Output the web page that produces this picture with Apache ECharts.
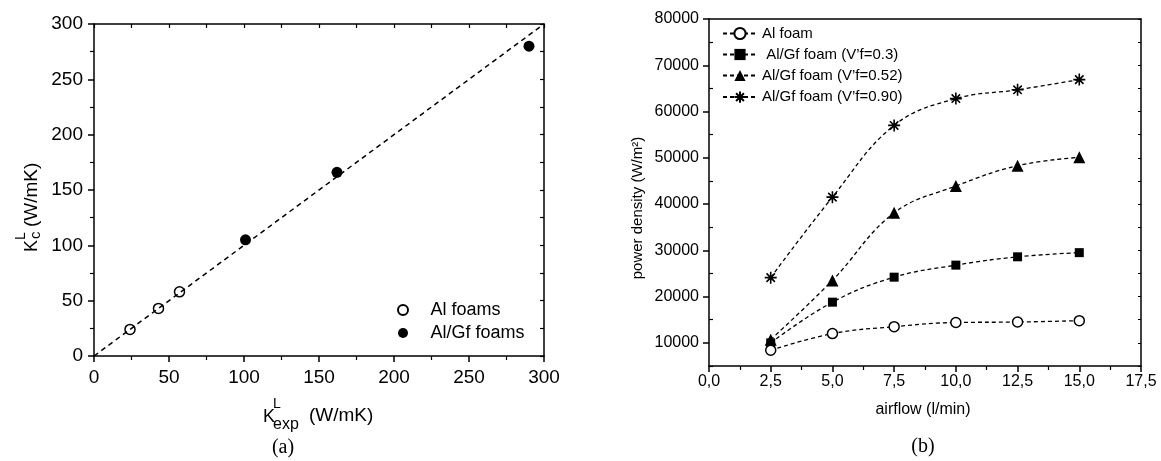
<!DOCTYPE html>
<html>
<head>
<meta charset="utf-8">
<script src="https://cdn.jsdelivr.net/npm/echarts@6/dist/echarts.min.js"></script>
<style>
  html, body { margin: 0; padding: 0; background: #fff; }
  #chart { width: 1161px; height: 461px; }
</style>
</head>
<body>
<div id="chart"></div>
<script>
// ---- panel (a): calculated vs experimental conductivity ----
const alFoamX = [24, 43, 57];
const alFoamY = [24, 43, 58];
const alGfFoamX = [101, 162, 290];
const alGfFoamY = [105, 166, 280];
const parityX = [0, 300];
const parityY = [0, 300];

// ---- panel (b): power density vs airflow ----
const airflow = [2.5, 5.0, 7.5, 10.0, 12.5, 15.0];
const alFoam = [8400, 12000, 13500, 14400, 14500, 14800];
const alGf030 = [10000, 18800, 24200, 26800, 28600, 29500];
const alGf052 = [10700, 23500, 38100, 43900, 48300, 50100];
const alGf090 = [24100, 41500, 57000, 62800, 64700, 66900];
const ticksB = [10000, 20000, 30000, 40000, 50000, 60000, 70000, 80000];
const minorB = [5000, 15000, 25000, 35000, 45000, 55000, 65000, 75000];
const namesB = ['Al foam', ' Al/Gf foam (V\u2019f=0.3)', 'Al/Gf foam (V\u2019f=0.52)', 'Al/Gf foam (V\u2019f=0.90)'];

const FONT = 'Liberation Sans';
const axisLine = { show: true, onZero: false, lineStyle: { color: '#000', width: 1.5 } };
const star = 'path://M0,-1L0,1M-1,0L1,0M-0.7,-0.7L0.7,0.7M-0.7,0.7L0.7,-0.7';

const zip = (xs, ys) => xs.map((x, i) => [x, ys[i]]);
const commaFmt = v => v.toFixed(1).replace('.', ',');

const chart = echarts.init(document.getElementById('chart'), null, { renderer: 'canvas' });

const option = {
    animation: false,
    backgroundColor: '#fff',
    textStyle: { fontFamily: FONT, color: '#000' },
    grid: [
        { left: 94, top: 24, width: 450, height: 332 },
        { left: 709, top: 19, width: 432, height: 347 }
    ],
    xAxis: [
        {   // (a) bottom
            gridIndex: 0, type: 'value', min: 0, max: 300, interval: 50,
            axisLine: axisLine,
            axisTick: { length: 6, lineStyle: { color: '#000', width: 1.5 } },
            minorTick: { show: true, splitNumber: 2, length: 4, lineStyle: { color: '#000', width: 1.2 } },
            axisLabel: { color: '#000', fontSize: 19, fontFamily: FONT, margin: 12 },
            splitLine: { show: false }
        },
        {   // (a) top frame
            gridIndex: 0, type: 'value', position: 'top', min: 0, max: 300, interval: 25,
            axisLine: axisLine,
            axisTick: { inside: true, length: 4, lineStyle: { color: '#000', width: 1.2 } },
            axisLabel: { show: false }, splitLine: { show: false }
        },
        {   // (b) bottom
            gridIndex: 1, type: 'value', min: 0, max: 17.5, interval: 2.5,
            axisLine: axisLine,
            axisTick: { length: 6, lineStyle: { color: '#000', width: 1.5 } },
            minorTick: { show: true, splitNumber: 2, length: 4, lineStyle: { color: '#000', width: 1.2 } },
            axisLabel: { color: '#000', fontSize: 16, fontFamily: FONT, margin: 8, formatter: commaFmt },
            splitLine: { show: false }
        },
        {   // (b) top frame
            gridIndex: 1, type: 'value', position: 'top', min: 0, max: 17.5, interval: 2.5,
            axisLine: axisLine,
            axisTick: { show: false }, axisLabel: { show: false }, splitLine: { show: false }
        }
    ],
    yAxis: [
        {   // (a) left
            gridIndex: 0, type: 'value', min: 0, max: 300, interval: 50,
            axisLine: axisLine,
            axisTick: { length: 6, lineStyle: { color: '#000', width: 1.5 } },
            minorTick: { show: true, splitNumber: 2, length: 4, lineStyle: { color: '#000', width: 1.2 } },
            axisLabel: { color: '#000', fontSize: 19, fontFamily: FONT, margin: 11 },
            splitLine: { show: false }
        },
        {   // (a) right frame
            gridIndex: 0, type: 'value', position: 'right', min: 0, max: 300, interval: 25,
            axisLine: axisLine,
            axisTick: { inside: true, length: 4, lineStyle: { color: '#000', width: 1.2 } },
            axisLabel: { show: false }, splitLine: { show: false }
        },
        {   // (b) left, major ticks + labels
            gridIndex: 1, type: 'value', min: 5000, max: 80000,
            axisLine: axisLine,
            axisTick: { length: 6, customValues: ticksB, lineStyle: { color: '#000', width: 1.5 } },
            axisLabel: { color: '#000', fontSize: 16, fontFamily: FONT, margin: 10, customValues: ticksB, formatter: v => String(v) },
            splitLine: { show: false }
        },
        {   // (b) left, minor ticks
            gridIndex: 1, type: 'value', min: 5000, max: 80000,
            axisLine: { show: false },
            axisTick: { length: 4, customValues: minorB, lineStyle: { color: '#000', width: 1.2 } },
            axisLabel: { show: false, customValues: minorB },
            splitLine: { show: false }
        },
        {   // (b) right frame
            gridIndex: 1, type: 'value', position: 'right', min: 5000, max: 80000,
            axisLine: axisLine,
            axisTick: { inside: true, length: 3, customValues: minorB.concat(ticksB), lineStyle: { color: '#000', width: 1 } },
            axisLabel: { show: false }, splitLine: { show: false }
        }
    ],
    legend: [
        {
            left: 392, top: 296, orient: 'vertical',
            itemWidth: 45, itemHeight: 10, itemGap: 5,
            data: ['Al foams', 'Al/Gf foams'],
            textStyle: { fontSize: 18, fontFamily: FONT, color: '#000' }
        },
        {
            left: 717, top: 21, orient: 'vertical',
            itemWidth: 34, itemHeight: 14, itemGap: 6,
            data: namesB,
            textStyle: { fontSize: 15, fontFamily: FONT, color: '#000' }
        }
    ],
    series: [
        {
            type: 'line', xAxisIndex: 0, yAxisIndex: 0, data: zip(parityX, parityY),
            symbol: 'none', silent: true,
            lineStyle: { color: '#000', width: 1.5, type: [5, 4] }
        },
        {
            name: 'Al foams', type: 'scatter', xAxisIndex: 0, yAxisIndex: 0,
            data: zip(alFoamX, alFoamY), symbol: 'circle', symbolSize: 10,
            itemStyle: { color: '#fff', borderColor: '#000', borderWidth: 1.5, opacity: 1 }
        },
        {
            name: 'Al/Gf foams', type: 'scatter', xAxisIndex: 0, yAxisIndex: 0,
            data: zip(alGfFoamX, alGfFoamY), symbol: 'circle', symbolSize: 11,
            itemStyle: { color: '#000', opacity: 1 }
        },
        {
            name: namesB[0], type: 'line', xAxisIndex: 2, yAxisIndex: 2,
            data: zip(airflow, alFoam), smooth: 0.4,
            symbol: 'circle', symbolSize: 10, z: 5,
            lineStyle: { color: '#000', width: 1.3, type: [4, 3] },
            itemStyle: { color: '#fff', borderColor: '#000', borderWidth: 1.5 }
        },
        {
            name: namesB[1], type: 'line', xAxisIndex: 2, yAxisIndex: 2,
            data: zip(airflow, alGf030), smooth: 0.4,
            symbol: 'rect', symbolSize: 9, z: 3,
            lineStyle: { color: '#000', width: 1.3, type: [4, 3] },
            itemStyle: { color: '#000' }
        },
        {
            name: namesB[2], type: 'line', xAxisIndex: 2, yAxisIndex: 2,
            data: zip(airflow, alGf052), smooth: 0.4,
            symbol: 'triangle', symbolSize: 12, z: 4,
            lineStyle: { color: '#000', width: 1.3, type: [4, 3] },
            itemStyle: { color: '#000' }
        },
        {
            name: namesB[3], type: 'line', xAxisIndex: 2, yAxisIndex: 2,
            data: zip(airflow, alGf090), smooth: 0.4,
            symbol: star, symbolSize: 12, z: 4,
            lineStyle: { color: '#000', width: 1.3, type: [4, 3] },
            itemStyle: { color: 'none', borderColor: '#000', borderWidth: 1.6 }
        }
    ],
    graphic: [
        // (a) y title: K_c^L (W/mK)
        {
            type: 'group', x: 32, y: 206, rotation: Math.PI / 2,
            children: [
                { type: 'text', x: -46, y: 0, style: { text: 'K', font: '18px ' + FONT, fill: '#000', verticalAlign: 'middle' } },
                { type: 'text', x: -34, y: -11, style: { text: 'L', font: '14px ' + FONT, fill: '#000', verticalAlign: 'middle' } },
                { type: 'text', x: -33, y: 4, style: { text: 'c', font: '15px ' + FONT, fill: '#000', verticalAlign: 'middle' } },
                { type: 'text', x: -21, y: 0, style: { text: '(W/mK)', font: '19px ' + FONT, fill: '#000', verticalAlign: 'middle' } }
            ]
        },
        // (a) x title: K_exp^L (W/mK)
        { type: 'text', x: 263, y: 417, style: { text: 'K', font: '18px ' + FONT, fill: '#000', verticalAlign: 'middle' } },
        { type: 'text', x: 273, y: 404, style: { text: 'L', font: '14px ' + FONT, fill: '#000', verticalAlign: 'middle' } },
        { type: 'text', x: 273, y: 425, style: { text: 'exp', font: '16px ' + FONT, fill: '#000', verticalAlign: 'middle' } },
        { type: 'text', x: 309, y: 416, style: { text: '(W/mK)', font: '19px ' + FONT, fill: '#000', verticalAlign: 'middle' } },
        // (b) axis titles
        {
            type: 'text', x: 638, y: 208, rotation: Math.PI / 2,
            style: { text: 'power density (W/m\u00b2)', font: '15px ' + FONT, fill: '#000', align: 'center', verticalAlign: 'middle' }
        },
        { type: 'text', x: 923, y: 410, style: { text: 'airflow (l/min)', font: '16px ' + FONT, fill: '#000', align: 'center', verticalAlign: 'middle' } },
        // panel captions
        { type: 'text', x: 283, y: 448, style: { text: '(a)', font: '20px Liberation Serif', fill: '#000', align: 'center', verticalAlign: 'middle' } },
        { type: 'text', x: 923, y: 447, style: { text: '(b)', font: '20px Liberation Serif', fill: '#000', align: 'center', verticalAlign: 'middle' } }
    ]
};

chart.setOption(option);
</script>
</body>
</html>
